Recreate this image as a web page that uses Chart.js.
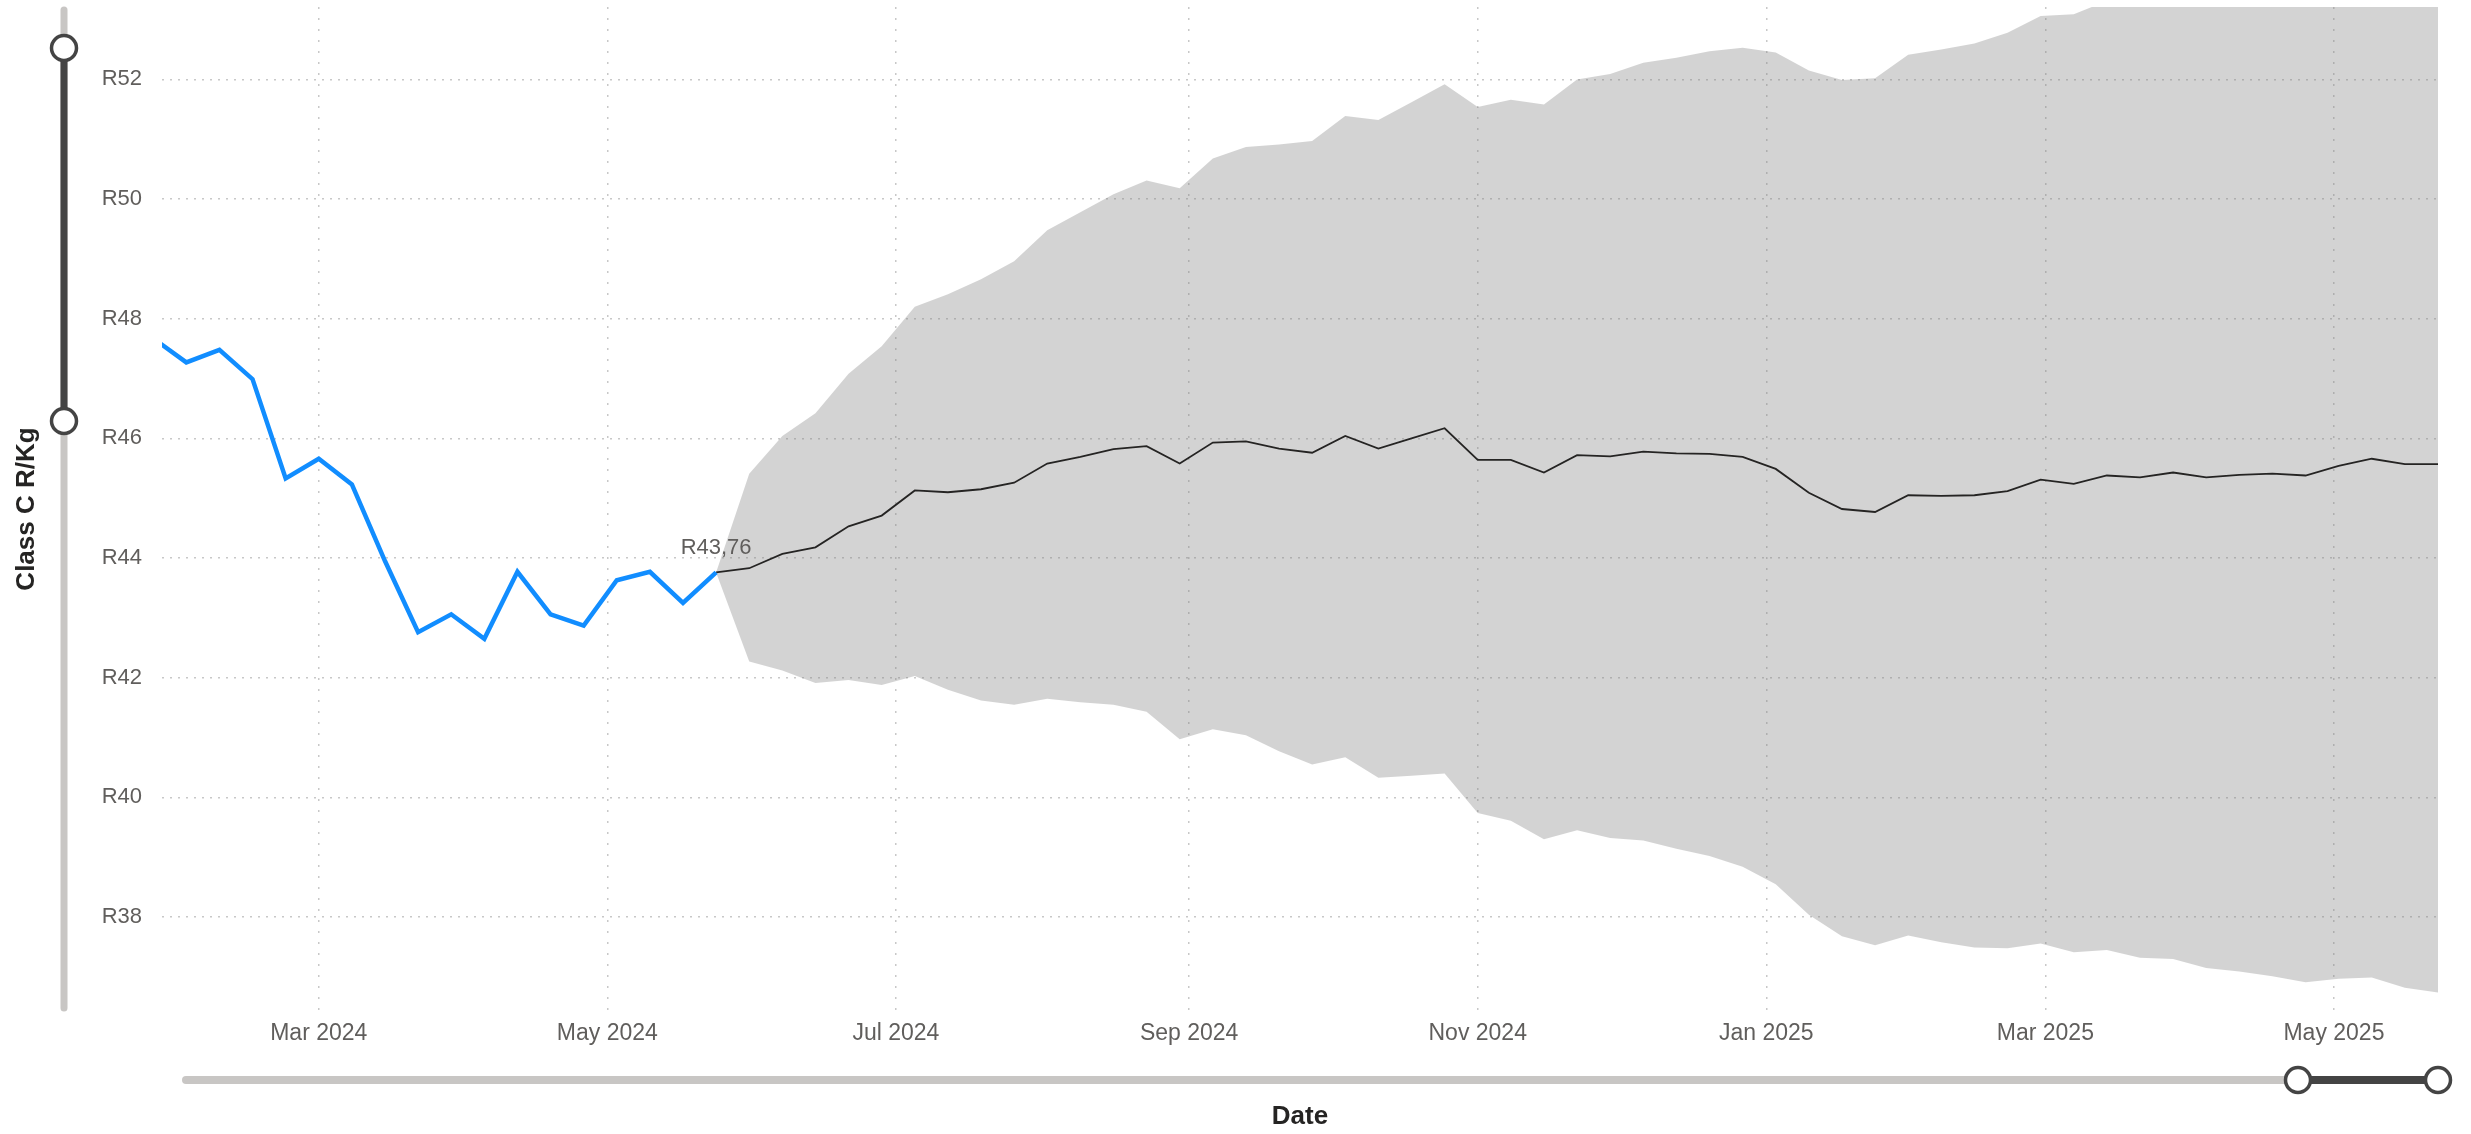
<!DOCTYPE html>
<html>
<head>
<meta charset="utf-8">
<script src="https://cdn.jsdelivr.net/npm/chart.js@4.4.1/dist/chart.umd.min.js"></script>
<style>
  html, body { margin: 0; padding: 0; background: #fff; }
  #wrap { width: 2471px; height: 1134px; }
</style>
</head>
<body>
<div id="wrap"><canvas id="chart" width="2471" height="1134"></canvas></div>
<script>
// Weekly actual prices (R/Kg)
const actualDates = [
  '2024-01-26', '2024-02-02', '2024-02-09', '2024-02-16', '2024-02-23',
  '2024-03-01', '2024-03-08', '2024-03-15', '2024-03-22', '2024-03-29',
  '2024-04-05', '2024-04-12', '2024-04-19', '2024-04-26', '2024-05-03',
  '2024-05-10', '2024-05-17', '2024-05-24'
];
const actualValues = [
  47.67, 47.27, 47.48, 46.99, 45.33,
  45.66, 45.23, 43.95, 42.76, 43.06,
  42.65, 43.77, 43.06, 42.87, 43.63,
  43.77, 43.25, 43.76
];

// Forecast (weekly) with confidence band
const forecastDates = [
  '2024-05-24', '2024-05-31', '2024-06-07', '2024-06-14', '2024-06-21', '2024-06-28',
  '2024-07-05', '2024-07-12', '2024-07-19', '2024-07-26', '2024-08-02', '2024-08-09',
  '2024-08-16', '2024-08-23', '2024-08-30', '2024-09-06', '2024-09-13', '2024-09-20',
  '2024-09-27', '2024-10-04', '2024-10-11', '2024-10-18', '2024-10-25', '2024-11-01',
  '2024-11-08', '2024-11-15', '2024-11-22', '2024-11-29', '2024-12-06', '2024-12-13',
  '2024-12-20', '2024-12-27', '2025-01-03', '2025-01-10', '2025-01-17', '2025-01-24',
  '2025-01-31', '2025-02-07', '2025-02-14', '2025-02-21', '2025-02-28', '2025-03-07',
  '2025-03-14', '2025-03-21', '2025-03-28', '2025-04-04', '2025-04-11', '2025-04-18',
  '2025-04-25', '2025-05-02', '2025-05-09', '2025-05-16', '2025-05-23'
];
const forecastValues = [
  43.76, 43.83, 44.07, 44.18, 44.53, 44.71,
  45.13, 45.10, 45.15, 45.26, 45.58, 45.69,
  45.82, 45.87, 45.58, 45.93, 45.95, 45.83,
  45.76, 46.04, 45.83, 46.00, 46.17, 45.64,
  45.64, 45.43, 45.72, 45.70, 45.78, 45.75,
  45.74, 45.69, 45.49, 45.09, 44.82, 44.77,
  45.05, 45.04, 45.05, 45.12, 45.31, 45.24,
  45.38, 45.35, 45.43, 45.35, 45.39, 45.41,
  45.38, 45.54, 45.66, 45.57, 45.57
];
const upperBound = [
  43.76, 45.41, 46.04, 46.42, 47.08, 47.54,
  48.20, 48.41, 48.66, 48.96, 49.48, 49.78,
  50.08, 50.31, 50.18, 50.68, 50.87, 50.91,
  50.97, 51.39, 51.32, 51.62, 51.92, 51.54,
  51.66, 51.58, 52.00, 52.09, 52.28, 52.36,
  52.47, 52.53, 52.45, 52.15, 51.99, 52.02,
  52.41, 52.50, 52.60, 52.78, 53.06, 53.09,
  53.31, 53.38, 53.56, 53.55, 53.69, 53.81,
  53.85, 54.11, 54.33, 54.32, 54.40
];
const lowerBound = [
  43.76, 42.27, 42.12, 41.91, 41.96, 41.88,
  42.03, 41.80, 41.62, 41.55, 41.65, 41.59,
  41.55, 41.43, 40.97, 41.14, 41.04, 40.77,
  40.55, 40.67, 40.33, 40.36, 40.40, 39.74,
  39.61, 39.30, 39.45, 39.32, 39.28, 39.14,
  39.02, 38.84, 38.55, 38.04, 37.68, 37.53,
  37.69, 37.58, 37.49, 37.48, 37.56, 37.41,
  37.45, 37.32, 37.30, 37.15, 37.09, 37.01,
  36.91, 36.97, 36.99, 36.82, 36.74
];

// Axis ticks
const monthTicks = ['2024-03-01', '2024-05-01', '2024-07-01', '2024-09-01', '2024-11-01', '2025-01-01', '2025-03-01', '2025-05-01'];
const monthNames = ['Jan', 'Feb', 'Mar', 'Apr', 'May', 'Jun', 'Jul', 'Aug', 'Sep', 'Oct', 'Nov', 'Dec'];
const yTicks = [38, 40, 42, 44, 46, 48, 50, 52];

const xMin = Date.parse('2024-01-27T20:40:00Z');
const xMax = Date.parse('2025-05-23T00:00:00Z');
const yMin = 36.43;
const yMax = 53.21;

const fontFamily = "'Segoe UI', 'Liberation Sans', Arial, sans-serif";

function toTime(d) {
    return Date.parse(d + 'T00:00:00Z');
}

function toPoints(dates, values) {
    return dates.map((d, i) => ({ x: toTime(d), y: values[i] }));
}

function formatMonth(value) {
    const d = new Date(value);
    return monthNames[d.getUTCMonth()] + ' ' + d.getUTCFullYear();
}

// Power BI style zoom sliders (decoration only)
const sliderPlugin = {
    id: 'zoomSliders',
    afterDraw(chart) {
        const ctx = chart.ctx;
        const area = chart.chartArea;
        const trackColor = '#c8c6c4';
        const handleColor = '#444444';

        function bar(x1, y1, x2, y2, color, width) {
            ctx.beginPath();
            ctx.moveTo(x1, y1);
            ctx.lineTo(x2, y2);
            ctx.strokeStyle = color;
            ctx.lineWidth = width;
            ctx.lineCap = 'round';
            ctx.stroke();
        }
        function knob(x, y) {
            ctx.beginPath();
            ctx.arc(x, y, 12.5, 0, Math.PI * 2);
            ctx.fillStyle = '#ffffff';
            ctx.fill();
            ctx.lineWidth = 3.5;
            ctx.strokeStyle = handleColor;
            ctx.stroke();
        }

        ctx.save();
        // vertical slider
        const vx = 64;
        bar(vx, area.top + 3, vx, area.bottom - 3, trackColor, 7);
        bar(vx, 48, vx, 421, handleColor, 7);
        knob(vx, 48);
        knob(vx, 421);

        // horizontal slider
        const hy = 1080;
        bar(area.left + 24, hy, area.right, hy, trackColor, 8);
        bar(2298, hy, area.right, hy, handleColor, 8);
        knob(2298, hy);
        knob(area.right, hy);
        ctx.restore();
    }
};

// Label for the last actual value
const lastValueLabel = {
    id: 'lastValueLabel',
    afterDatasetsDraw(chart) {
        const meta = chart.getDatasetMeta(0);
        const pt = meta.data[meta.data.length - 1];
        const v = actualValues[actualValues.length - 1];
        const ctx = chart.ctx;
        ctx.save();
        ctx.font = '22px ' + fontFamily;
        ctx.fillStyle = '#605E5C';
        ctx.textAlign = 'center';
        ctx.textBaseline = 'alphabetic';
        ctx.fillText('R' + v.toFixed(2).replace('.', ','), pt.x, pt.y - 18);
        ctx.restore();
    }
};

const ctx = document.getElementById('chart').getContext('2d');
const chart = new Chart(ctx, {
    type: 'line',
    data: {
        datasets: [
            {
                label: 'Actual',
                data: toPoints(actualDates, actualValues),
                borderColor: '#118DFF',
                borderWidth: 4.5,
                pointRadius: 0,
                tension: 0,
                fill: false
            },
            {
                label: 'Forecast',
                data: toPoints(forecastDates, forecastValues),
                borderColor: '#252423',
                borderWidth: 1.8,
                pointRadius: 0,
                tension: 0,
                fill: false
            },
            {
                label: 'Upper bound',
                data: toPoints(forecastDates, upperBound),
                borderWidth: 0,
                borderColor: 'rgba(0,0,0,0)',
                backgroundColor: 'rgba(128,128,128,0.345)',
                pointRadius: 0,
                tension: 0,
                fill: '+1'
            },
            {
                label: 'Lower bound',
                data: toPoints(forecastDates, lowerBound),
                borderWidth: 0,
                borderColor: 'rgba(0,0,0,0)',
                pointRadius: 0,
                tension: 0,
                fill: false
            }
        ]
    },
    options: {
        responsive: false,
        animation: false,
        devicePixelRatio: 1,
        layout: { padding: { left: 0, top: 7, right: 33, bottom: 0 } },
        plugins: {
            legend: { display: false },
            tooltip: { enabled: false }
        },
        scales: {
            x: {
                type: 'linear',
                min: xMin,
                max: xMax,
                afterBuildTicks: scale => {
                    scale.ticks = monthTicks.map(d => ({ value: toTime(d) }));
                },
                afterFit: scale => {
                    scale.height = 123;
                    scale.paddingLeft = 0;
                    scale.paddingRight = 0;
                },
                grid: { color: '#c8c8c8', lineWidth: 1.5, drawTicks: false },
                border: { display: false, dash: [2, 9] },
                ticks: {
                    callback: formatMonth,
                    font: { family: fontFamily, size: 23 },
                    color: '#605E5C',
                    padding: 9,
                    maxRotation: 0,
                    autoSkip: false
                },
                title: {
                    display: true,
                    text: 'Date',
                    font: { family: fontFamily, size: 26, weight: 'bold' },
                    color: '#252423',
                    padding: { top: 0, bottom: 2 }
                }
            },
            y: {
                min: yMin,
                max: yMax,
                afterBuildTicks: scale => {
                    scale.ticks = yTicks.map(v => ({ value: v }));
                },
                afterFit: scale => {
                    scale.width = 162;
                    scale.paddingTop = 0;
                    scale.paddingBottom = 0;
                },
                grid: { color: '#c8c8c8', lineWidth: 1.5, drawTicks: false },
                border: { display: false, dash: [2, 6] },
                ticks: {
                    callback: v => 'R' + v,
                    font: { family: fontFamily, size: 22 },
                    color: '#605E5C',
                    padding: 20
                },
                title: {
                    display: true,
                    text: 'Class C R/Kg',
                    font: { family: fontFamily, size: 26, weight: 'bold' },
                    color: '#252423',
                    padding: { top: 11, bottom: 0 }
                }
            }
        }
    },
    plugins: [sliderPlugin, lastValueLabel]
});
</script>
</body>
</html>
